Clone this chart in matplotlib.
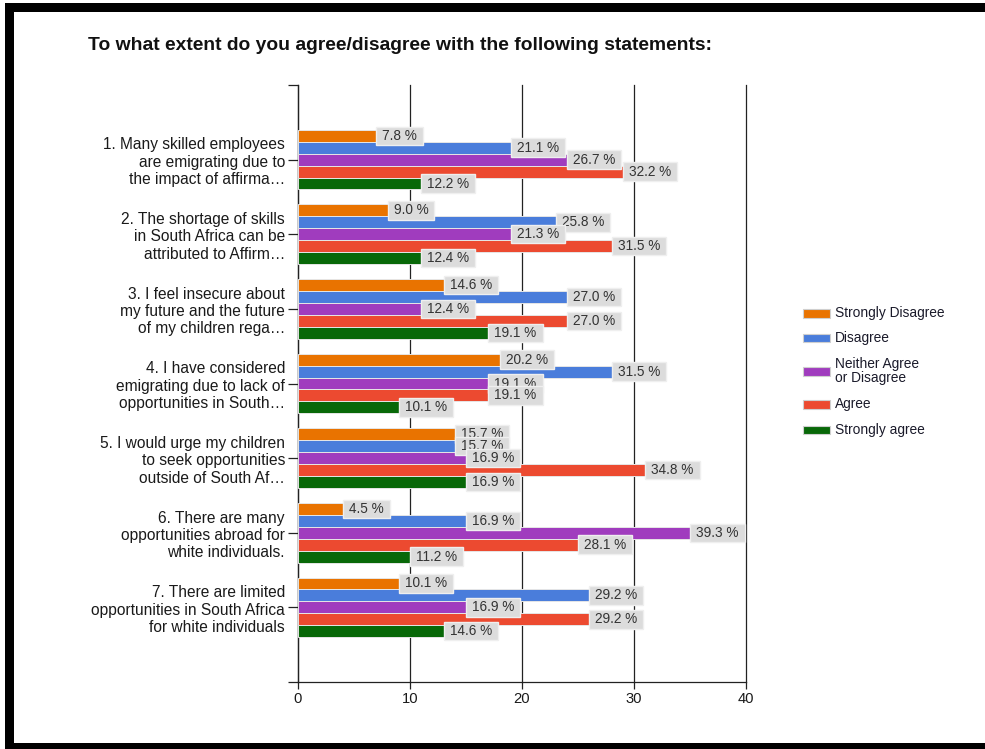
import matplotlib
matplotlib.use("Agg")
import matplotlib.pyplot as plt
from matplotlib.patches import Rectangle
from matplotlib.path import Path

plt.rcParams["font.family"] = ["Liberation Sans", "DejaVu Sans"]

# Survey statements (truncated as in the survey tool export)
statements = [
    "1. Many skilled employees\nare emigrating due to\nthe impact of affirma\u2026",
    "2. The shortage of skills\nin South Africa can be\nattributed to Affirm\u2026",
    "3. I feel insecure about\nmy future and the future\nof my children rega\u2026",
    "4. I have considered\nemigrating due to lack of\nopportunities in South\u2026",
    "5. I would urge my children\nto seek opportunities\noutside of South Af\u2026",
    "6. There are many\nopportunities abroad for\nwhite individuals.",
    "7. There are limited\nopportunities in South Africa\nfor white individuals",
]

# Respondents per statement
respondents = [90, 89, 89, 89, 89, 89, 89]

# Number of responses per answer option
strongly_disagree = [7, 8, 13, 18, 14, 4, 9]
disagree = [19, 23, 24, 28, 14, 15, 26]
neither = [24, 19, 11, 17, 15, 35, 15]
agree = [29, 28, 24, 17, 31, 25, 26]
strongly_agree = [11, 11, 17, 9, 15, 10, 13]

series_names = ["Strongly Disagree", "Disagree", "Neither Agree\nor Disagree",
                "Agree", "Strongly agree"]
series_values = [strongly_disagree, disagree, neither, agree, strongly_agree]
series_colors = ["#e97300", "#4a7ddb", "#a03cbe", "#ec4a30", "#086808"]

x_ticks = [0, 10, 20, 30, 40]

W, H, DPI = 985, 749, 100
fig = plt.figure(figsize=(W / DPI, H / DPI), dpi=DPI)
fig.patch.set_facecolor("white")


def fx(px):
    return px / W


def fy(py):
    return 1 - py / H


# black frame on top, left and bottom edges
for (x0, y0, x1, y1) in [(5, 3, 985, 12), (5, 3, 14, 749), (5, 743, 985, 749)]:
    fig.add_artist(Rectangle((fx(x0), fy(y1)), fx(x1) - fx(x0), fy(y0) - fy(y1),
                             transform=fig.transFigure, facecolor="black",
                             edgecolor="none", zorder=10))

fig.text(fx(88), fy(46), "To what extent do you agree/disagree with the following statements:",
         fontsize=13.9, fontweight="bold", ha="left", va="center", color="#111111")

ax = fig.add_axes([fx(298), fy(682), fx(746) - fx(298), fy(85) - fy(682)])
ax.set_xlim(0, 40)
ax.set_ylim(8, 0)

bar_h = 0.16
n_series = len(series_values)


def label_box(x0, y0, width, height, mutation_size):
    px = 6.0
    py = 2.2
    return Path([(x0 - px, y0 - py), (x0 + width + px, y0 - py),
                 (x0 + width + px, y0 + height + py), (x0 - px, y0 + height + py),
                 (x0 - px, y0 - py)], closed=True)


group_pos = list(range(1, len(statements) + 1))
for j, (vals, color) in enumerate(zip(series_values, series_colors)):
    offs = [g + (j - (n_series - 1) / 2) * bar_h for g in group_pos]
    ax.barh(offs, vals, height=bar_h, color=color, edgecolor="#e6e6e6",
            linewidth=0.7, zorder=3)

zo = 5
for i, g in enumerate(group_pos):
    for j, vals in enumerate(series_values):
        y = g + (j - (n_series - 1) / 2) * bar_h
        pct = 100 * vals[i] / respondents[i]
        ax.annotate(f"{pct:.1f} %", xy=(vals[i], y), xytext=(6, 0),
                    textcoords="offset pixels", ha="left", va="center",
                    fontsize=9.8, color="#333333", zorder=zo,
                    bbox=dict(boxstyle=label_box, facecolor="#dcdcdc",
                              edgecolor="#efefef", linewidth=1.0))
        zo += 1

ax.set_xticks(x_ticks)
ax.set_xticklabels([str(t) for t in x_ticks])
ax.set_yticks(range(0, 9))
ax.set_yticklabels([""] + statements + [""])
ax.tick_params(axis="y", length=7.2, width=0.9, pad=2.2, labelsize=11.2,
               colors="#222222", labelcolor="#1a1a1a")
ax.tick_params(axis="x", length=5.0, width=0.9, pad=2.5, labelsize=10.6,
               colors="#222222", labelcolor="#1a1a1a")
ax.xaxis.grid(True, color="#222222", linewidth=0.9)
for gl in ax.get_xgridlines():
    gl.set_clip_on(False)
ax.set_axisbelow(True)
for side in ["top", "right"]:
    ax.spines[side].set_visible(False)
for side in ["left", "bottom"]:
    ax.spines[side].set_color("#222222")
    ax.spines[side].set_linewidth(0.9)
ax.set_facecolor("none")

# legend drawn beside the plot
legend_y = [313, 338, 371, 404, 430]
for name, color, ly in zip(series_names, series_colors, legend_y):
    fig.add_artist(Rectangle((fx(803), fy(ly + 4.5)), fx(830) - fx(803), fy(ly - 4.5) - fy(ly + 4.5),
                             transform=fig.transFigure, facecolor=color,
                             edgecolor="#cfcfcf", linewidth=0.8))
    fig.text(fx(835), fy(ly), name, fontsize=9.9, ha="left", va="center",
             color="#1a1a2a", linespacing=1.0)

fig.savefig("out.png", dpi=DPI)
